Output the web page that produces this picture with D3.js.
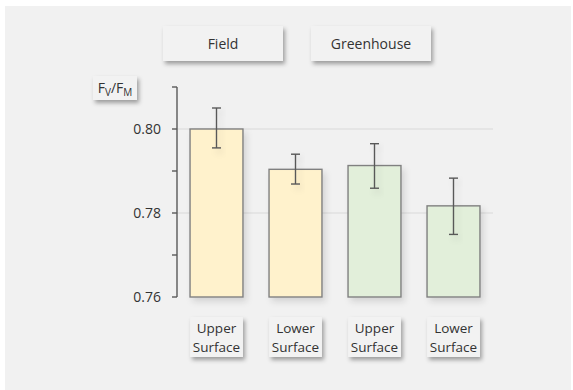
<!DOCTYPE html>
<html>
<head>
<meta charset="utf-8">
<script src="https://cdn.jsdelivr.net/npm/d3@7"></script>
<style>
  body { margin: 0; background: #fff; }
  svg text { font-family: "Open Sans", "Noto Sans", sans-serif; fill: #333; }
</style>
</head>
<body>
<script>
var categories = ["Upper Surface", "Lower Surface", "Upper Surface", "Lower Surface"];
var groups = ["Field", "Field", "Greenhouse", "Greenhouse"];
var groupNames = ["Field", "Greenhouse"];
var means = [0.8000, 0.7904, 0.7913, 0.7817];
var errLow = [0.7955, 0.7869, 0.7859, 0.7749];
var errHigh = [0.8050, 0.7940, 0.7965, 0.7883];
var majorTicks = [0.76, 0.78, 0.80];
var minorTicks = [0.77, 0.79, 0.81];

var width = 573, height = 390;
var svg = d3.select("body").append("svg")
  .attr("width", width)
  .attr("height", height);

var defs = svg.append("defs");
var shadow = defs.append("filter").attr("id", "shadow")
  .attr("x", "-20%").attr("y", "-20%").attr("width", "150%").attr("height", "160%");
shadow.append("feDropShadow")
  .attr("dx", 2).attr("dy", 3).attr("stdDeviation", 2)
  .attr("flood-color", "#000").attr("flood-opacity", 0.35);

var soft = defs.append("filter").attr("id", "soft")
  .attr("x", "-50%").attr("y", "-50%").attr("width", "200%").attr("height", "200%");
soft.append("feDropShadow")
  .attr("dx", 3).attr("dy", 4).attr("stdDeviation", 3)
  .attr("flood-color", "#000").attr("flood-opacity", 0.12);

// panel
svg.append("rect")
  .attr("x", 5).attr("y", 6).attr("width", 566).attr("height", 384)
  .attr("fill", "#f1f1f1");

var xLeft = 177, xRight = 493;

var x = d3.scaleBand()
  .domain(d3.range(categories.length))
  .range([xLeft, xRight])
  .paddingInner(0.33)
  .paddingOuter(0.165);

var y = d3.scaleLinear()
  .domain([0.76, 0.81])
  .range([297, 87]);

// gridlines
svg.selectAll(".grid").data(majorTicks.slice(1)).enter().append("line")
  .attr("x1", xLeft).attr("x2", xRight)
  .attr("y1", function(d){ return y(d); })
  .attr("y2", function(d){ return y(d); })
  .attr("stroke", "#d9d9d9").attr("stroke-width", 1.2);

// bars
var fills = { "Field": "#fff2cc", "Greenhouse": "#e2efda" };
svg.selectAll(".bar").data(means).enter().append("rect")
  .attr("x", function(d, i){ return x(i); })
  .attr("y", function(d){ return y(d); })
  .attr("width", x.bandwidth())
  .attr("height", function(d){ return y(0.76) - y(d); })
  .attr("fill", function(d, i){ return fills[groups[i]]; })
  .attr("stroke", "#808080")
  .attr("stroke-width", 1.4)
  .attr("filter", "url(#soft)");

// error bars
var eb = svg.selectAll(".eb").data(means).enter().append("g")
  .attr("stroke", "#595959").attr("stroke-width", 1.4)
  .attr("filter", "url(#soft)");
eb.append("line")
  .attr("x1", function(d, i){ return x(i) + x.bandwidth() / 2; })
  .attr("x2", function(d, i){ return x(i) + x.bandwidth() / 2; })
  .attr("y1", function(d, i){ return y(errHigh[i]); })
  .attr("y2", function(d, i){ return y(errLow[i]); });
eb.append("line")
  .attr("x1", function(d, i){ return x(i) + x.bandwidth() / 2 - 4.5; })
  .attr("x2", function(d, i){ return x(i) + x.bandwidth() / 2 + 4.5; })
  .attr("y1", function(d, i){ return y(errHigh[i]); })
  .attr("y2", function(d, i){ return y(errHigh[i]); });
eb.append("line")
  .attr("x1", function(d, i){ return x(i) + x.bandwidth() / 2 - 4.5; })
  .attr("x2", function(d, i){ return x(i) + x.bandwidth() / 2 + 4.5; })
  .attr("y1", function(d, i){ return y(errLow[i]); })
  .attr("y2", function(d, i){ return y(errLow[i]); });

// baseline
svg.append("line")
  .attr("x1", xLeft).attr("x2", xRight)
  .attr("y1", y(0.76)).attr("y2", y(0.76))
  .attr("stroke", "#7f7f7f").attr("stroke-width", 1.6)
  .attr("filter", "url(#soft)");

// y axis
svg.append("line")
  .attr("x1", xLeft).attr("x2", xLeft)
  .attr("y1", y(0.81)).attr("y2", y(0.76))
  .attr("stroke", "#595959").attr("stroke-width", 1.4);
svg.selectAll(".tick").data(majorTicks.concat(minorTicks)).enter().append("line")
  .attr("x1", xLeft - 5).attr("x2", xLeft)
  .attr("y1", function(d){ return y(d); })
  .attr("y2", function(d){ return y(d); })
  .attr("stroke", "#595959").attr("stroke-width", 1.4);
svg.selectAll(".tlabel").data(majorTicks).enter().append("text")
  .attr("x", xLeft - 16)
  .attr("y", function(d){ return y(d); })
  .attr("dy", "0.35em")
  .attr("text-anchor", "end")
  .attr("font-size", 14)
  .text(function(d){ return d3.format(".2f")(d); });

// boxes with shadow
function box(x0, y0, w, h) {
  svg.append("rect")
    .attr("x", x0).attr("y", y0).attr("width", w).attr("height", h)
    .attr("fill", "#f2f2f2")
    .attr("filter", "url(#shadow)");
}

// y title
box(93, 76, 44, 24);
var yt = svg.append("text").attr("x", 115).attr("y", 93)
  .attr("text-anchor", "middle").attr("font-size", 14);
yt.append("tspan").text("F");
yt.append("tspan").attr("font-size", 10).attr("dy", 3).text("V");
yt.append("tspan").attr("dy", -3).text("/F");
yt.append("tspan").attr("font-size", 10).attr("dy", 3).text("M");

// group headers
var headerX = [223, 371];
groupNames.forEach(function(g, k) {
  var cx = headerX[k];
  box(cx - 60, 26, 120, 35);
  svg.append("text").attr("x", cx).attr("y", 44)
    .attr("dy", "0.35em").attr("text-anchor", "middle")
    .attr("font-size", 14).text(g);
});

// category labels
categories.forEach(function(c, i) {
  var cx = x(i) + x.bandwidth() / 2;
  box(x(i), 317, x.bandwidth(), 40);
  var parts = c.split(" ");
  svg.append("text").attr("x", cx).attr("y", 328)
    .attr("dy", "0.35em").attr("text-anchor", "middle")
    .attr("font-size", 13.5).text(parts[0]);
  svg.append("text").attr("x", cx).attr("y", 347)
    .attr("dy", "0.35em").attr("text-anchor", "middle")
    .attr("font-size", 13.5).text(parts[1]);
});
</script>
</body>
</html>
